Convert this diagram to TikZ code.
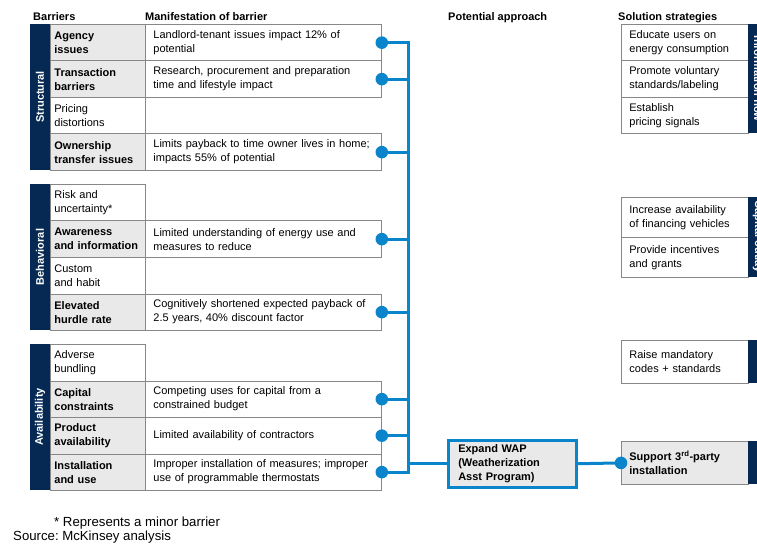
\documentclass[tikz,border=0pt]{standalone}
\usepackage{fontspec}
\setmainfont{Liberation Sans}
\usepackage{tikz}
\usetikzlibrary{positioning}
\definecolor{navy}{RGB}{6,41,84}
\definecolor{wapblue}{RGB}{10,132,202}
\definecolor{cellgray}{RGB}{233,233,233}
\definecolor{linegray}{RGB}{135,135,135}
\frenchspacing

\tikzset{
  cell/.style={draw=linegray, line width=0.8pt, anchor=north west, minimum height=36.5pt,
    inner ysep=0pt, align=left, font=\fontsize{11}{14}\selectfont},
  keycell/.style={cell, fill=cellgray, minimum width=95pt, text width=87pt, inner xsep=4pt,
    font=\fontsize{11}{14}\selectfont\bfseries},
  minorcell/.style={cell, fill=white, minimum width=95pt, text width=87pt, inner xsep=4pt},
  mancell/.style={cell, fill=white, minimum width=236pt, text width=220pt, inner xsep=8pt},
  solbox/.style={cell, fill=white, minimum width=127pt, text width=111pt, inner xsep=8pt},
  strip/.style={fill=navy, text=white, minimum height=20pt, inner sep=0pt,
    font=\fontsize{11}{13}\selectfont\bfseries},
  wapbox/.style={draw=wapblue, line width=2.5pt, fill=cellgray, anchor=north west,
    minimum width=128pt, minimum height=47pt, text width=108pt, inner xsep=10pt, inner ysep=0pt,
    align=left, font=\fontsize{11}{14}\selectfont\bfseries},
  head/.style={anchor=base west, inner sep=0pt, font=\fontsize{11}{13}\selectfont\bfseries},
  note/.style={anchor=base west, inner sep=0pt, font=\fontsize{13.2}{15}\selectfont},
  conn/.style={draw=wapblue, line width=3pt},
  dot/.style={fill=wapblue}
}

\begin{document}
\begin{tikzpicture}[x=1pt,y=-1pt]
\useasboundingbox (0,0) rectangle (757,545);
\clip (0,0) rectangle (757,545);

% headers
\node[head] (hbar) at (33,21) {Barriers};
\node[head] (hman) at (145,21) {Manifestation of barrier};
\node[head] (happ) at (448,21) {Potential approach};
\node[head] (hsol) at (618,21) {Solution strategies};

% structural
\node[strip, rotate=90, minimum width=146pt] (sstruct) at (40,97) {Structural};
\node[keycell] (agency) at (50,24) {Agency\\issues};
\node[mancell] (agencyM) at (145,24) {Landlord-tenant issues impact 12\% of\\potential};
\node[keycell] (transaction) at (50,60.5) {Transaction\\barriers};
\node[mancell] (transactionM) at (145,60.5) {Research, procurement and preparation\\time and lifestyle impact};
\node[minorcell] (pricing) at (50,97) {Pricing\\distortions};
\node[keycell] (ownership) at (50,133.5) {Ownership\\transfer issues};
\node[mancell] (ownershipM) at (145,133.5) {Limits payback to time owner lives in home;\\impacts 55\% of potential};

% behavioral
\node[strip, rotate=90, minimum width=146pt] (sbehav) at (40,257) {Behavioral};
\node[minorcell] (risk) at (50,184) {Risk and\\uncertainty*};
\node[keycell] (awareness) at (50,220.5) {Awareness\\and information};
\node[mancell] (awarenessM) at (145,220.5) {Limited understanding of energy use and\\measures to reduce};
\node[minorcell] (custom) at (50,257) {Custom\\and habit};
\node[keycell] (hurdle) at (50,293.5) {Elevated\\hurdle rate};
\node[mancell] (hurdleM) at (145,293.5) {Cognitively shortened expected payback of\\2.5 years, 40\% discount factor};

% availability
\node[strip, rotate=90, minimum width=146pt] (savail) at (40,417) {Availability};
\node[minorcell] (adverse) at (50,344) {Adverse\\bundling};
\node[keycell] (capital) at (50,380.5) {Capital\\constraints};
\node[mancell] (capitalM) at (145,380.5) {Competing uses for capital from a\\constrained budget};
\node[keycell] (product) at (50,417) {Product\\availability};
\node[mancell] (productM) at (145,417) {Limited availability of contractors};
\node[keycell] (install) at (50,453.5) {Installation\\and use};
\node[mancell] (installM) at (145,453.5) {Improper installation of measures; improper\\use of programmable thermostats};

% solution strategies
\node[solbox] (educate) at (621,24) {Educate users on\\energy consumption};
\node[solbox] (promote) at (621,60.5) {Promote voluntary\\standards/labeling};
\node[solbox] (signals) at (621,97) {Establish\\pricing signals};
\node[strip, rotate=-90, minimum width=109.5pt] (sinfo) at (758,78.75) {Information flow};

\node[solbox, minimum height=40pt] (financing) at (621,197) {Increase availability\\of financing vehicles};
\node[solbox, minimum height=40pt] (incentives) at (621,237) {Provide incentives\\and grants};
\node[strip, rotate=-90, minimum width=80pt] (soutlay) at (758,237) {Capital outlay};

\node[solbox, minimum height=43pt] (mandatory) at (621,340) {Raise mandatory\\codes + standards};
\node[strip, rotate=-90, minimum width=43pt] (sregul) at (758,361.5) {};

\node[solbox, minimum height=43pt, fill=cellgray, font=\fontsize{11}{14}\selectfont\bfseries] (support) at (621,441) {Support 3\textsuperscript{rd}-party\\installation};
\node[strip, rotate=-90, minimum width=43pt] (sthird) at (758,462.5) {};

% potential approach
\node[wapbox] (wap) at (447,439) {Expand WAP\\(Weatherization\\Asst Program)};

% connectors
\coordinate (bus) at (408,0);
\draw[conn] (agencyM.east) -- (agencyM.east -| bus) -- (installM.east -| bus) -- (installM.east);
\foreach \m in {transactionM,ownershipM,awarenessM,hurdleM,capitalM,productM}
  \draw[conn] (\m.east) -- (\m.east -| bus);
\draw[conn] (wap.west -| bus) -- (wap.west);
\draw[conn] (wap.east) -- (support.west);
\foreach \m in {agencyM,transactionM,ownershipM,awarenessM,hurdleM,capitalM,productM,installM}
  \fill[dot] (\m.east) circle (6.3pt);
\fill[dot] (support.west) circle (6.3pt);

% notes
\node[note] (fnote) at (54,526) {* Represents a minor barrier};
\node[note] (source) at (13,540) {Source: McKinsey analysis};
\end{tikzpicture}
\end{document}
